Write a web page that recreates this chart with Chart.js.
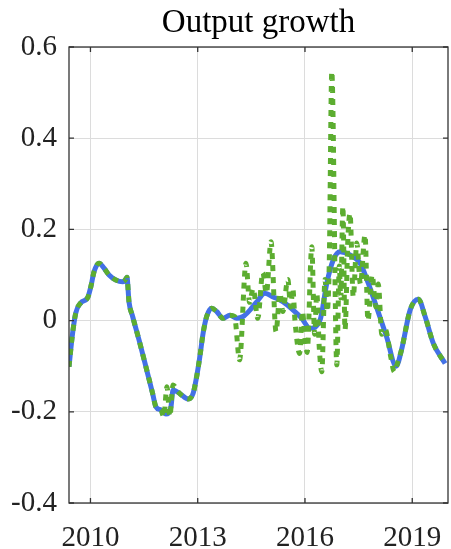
<!DOCTYPE html>
<html>
<head>
<meta charset="utf-8">
<script src="https://cdn.jsdelivr.net/npm/chart.js@4"></script>
<style>
  body { margin: 0; background: #fff; }
  #wrap { width: 451px; height: 549px; }
</style>
</head>
<body>
<div id="wrap"><canvas id="myChart" width="451" height="549"></canvas></div>
<script>
// smooth series (blue, solid)
const blueYears = [2009.40, 2009.50, 2009.59, 2009.73, 2009.92, 2010.01, 2010.10, 2010.24, 2010.38, 2010.52,
  2010.71, 2010.90, 2010.98, 2011.02, 2011.08, 2011.18, 2011.36, 2011.55, 2011.74, 2011.83, 2011.97,
  2012.11, 2012.25, 2012.31, 2012.50, 2012.73, 2012.87, 2012.97, 2013.06, 2013.15, 2013.25, 2013.39,
  2013.53, 2013.71, 2013.90, 2014.09, 2014.27, 2014.46, 2014.65, 2014.88, 2015.11, 2015.39, 2015.67,
  2015.91, 2016.14, 2016.42, 2016.61, 2016.79, 2016.98, 2017.26, 2017.54, 2017.77, 2018.00, 2018.28,
  2018.55, 2018.70, 2018.94, 2019.17, 2019.36, 2019.59, 2019.92];
const blueValues = [-0.101, -0.028, 0.017, 0.039, 0.050, 0.074, 0.107, 0.126, 0.115, 0.100,
  0.089, 0.085, 0.090, 0.095, 0.040, 0.009, -0.043, -0.101, -0.160, -0.189, -0.196,
  -0.205, -0.190, -0.152, -0.160, -0.172, -0.160, -0.123, -0.079, -0.028, 0.009, 0.027,
  0.020, 0.005, 0.012, 0.005, 0.009, 0.023, 0.041, 0.060, 0.052, 0.041, 0.023,
  0.005, -0.017, 0.001, 0.082, 0.133, 0.151, 0.144, 0.126, 0.082, 0.030, -0.035,
  -0.100, -0.064, 0.023, 0.047, 0.009, -0.050, -0.094];

// noisy series (green, dotted)
const greenYears = [2009.40, 2009.50, 2009.59, 2009.73, 2009.92, 2010.01, 2010.10, 2010.24, 2010.38, 2010.52,
  2010.71, 2010.90, 2010.98, 2011.02, 2011.08, 2011.18, 2011.36, 2011.55, 2011.74, 2011.83, 2011.97,
  2012.05, 2012.14, 2012.22, 2012.31, 2012.45, 2012.73, 2012.87, 2012.97, 2013.06, 2013.15, 2013.25,
  2013.39, 2013.53, 2013.71, 2013.90, 2014.03, 2014.17, 2014.35, 2014.45, 2014.55, 2014.68, 2014.82,
  2014.92, 2015.05, 2015.19, 2015.30, 2015.38, 2015.52, 2015.60, 2015.66, 2015.72, 2015.85, 2015.93,
  2016.00, 2016.06, 2016.19, 2016.27, 2016.33, 2016.40, 2016.47, 2016.56, 2016.62, 2016.68, 2016.75,
  2016.89, 2016.96, 2017.00, 2017.06, 2017.12, 2017.20, 2017.26, 2017.35, 2017.45, 2017.55, 2017.68,
  2017.76, 2017.88, 2017.98, 2018.05, 2018.15, 2018.25, 2018.40, 2018.50, 2018.58, 2018.70, 2018.94,
  2019.17, 2019.36, 2019.59, 2019.92];
const greenValues = [-0.101, -0.028, 0.017, 0.039, 0.050, 0.074, 0.107, 0.126, 0.115, 0.100,
  0.089, 0.085, 0.090, 0.095, 0.040, 0.009, -0.043, -0.101, -0.160, -0.189, -0.196,
  -0.211, -0.145, -0.210, -0.141, -0.156, -0.172, -0.160, -0.123, -0.079, -0.028, 0.009,
  0.027, 0.020, 0.005, 0.012, 0.009, -0.086, 0.126, 0.040, 0.070, 0.005, 0.105,
  0.060, 0.173, -0.024, 0.060, 0.020, 0.090, 0.030, 0.070, 0.000, -0.072, 0.020,
  -0.040, -0.070, 0.162, -0.030, 0.060, -0.060, -0.112, 0.090, 0.020, 0.130, 0.546,
  -0.097, 0.120, 0.050, 0.250, -0.020, 0.180, 0.235, 0.052, 0.170, 0.080, 0.188,
  0.000, 0.100, 0.030, 0.080, -0.030, -0.020, -0.080, -0.112, -0.095, -0.064, 0.023,
  0.047, 0.009, -0.050, -0.094];

const yearTicks = [2010, 2013, 2016, 2019];

const serif = '"Liberation Serif", "DejaVu Serif", serif';

const boxPlugin = {
  id: 'box',
  afterDatasetsDraw(chart) {
    const { ctx, chartArea: a, scales } = chart;
    ctx.save();
    ctx.strokeStyle = '#333';
    ctx.lineWidth = 1.3;
    ctx.strokeRect(a.left, a.top, a.right - a.left, a.bottom - a.top);
    ctx.beginPath();
    yearTicks.forEach(t => {
      const x = scales.x.getPixelForValue(t);
      ctx.moveTo(x, a.bottom); ctx.lineTo(x, a.bottom - 5);
      ctx.moveTo(x, a.top); ctx.lineTo(x, a.top + 5);
    });
    scales.y.ticks.forEach(t => {
      const y = scales.y.getPixelForValue(t.value);
      ctx.moveTo(a.left, y); ctx.lineTo(a.left + 5, y);
      ctx.moveTo(a.right, y); ctx.lineTo(a.right - 5, y);
    });
    ctx.stroke();
    ctx.restore();
  }
};

new Chart(document.getElementById('myChart'), {
  type: 'line',
  data: {
    datasets: [
      {
        label: 'noisy',
        data: greenYears.map((x, i) => ({ x, y: greenValues[i] })),
        borderColor: '#5cad30',
        borderWidth: 5,
        borderDash: [6, 6],
        borderCapStyle: 'butt',
        pointRadius: 0,
        cubicInterpolationMode: 'monotone',
        fill: false
      },
      {
        label: 'smooth',
        data: blueYears.map((x, i) => ({ x, y: blueValues[i] })),
        borderColor: '#4371e6',
        borderWidth: 5,
        pointRadius: 0,
        cubicInterpolationMode: 'monotone',
        fill: false
      }
    ]
  },
  options: {
    responsive: false,
    animation: false,
    layout: { padding: { right: 3 } },
    plugins: {
      legend: { display: false },
      tooltip: { enabled: false },
      title: {
        display: true,
        text: 'Output growth',
        fullSize: false,
        color: '#000',
        font: { family: serif, size: 33, weight: 'normal' },
        padding: { top: 4, bottom: 3.4 }
      }
    },
    scales: {
      x: {
        type: 'linear',
        min: 2009.4,
        max: 2020.0,
        afterBuildTicks: scale => { scale.ticks = yearTicks.map(v => ({ value: v })); },
        afterFit: scale => {
          scale.height = 46;
          scale.paddingLeft = 0;
          scale.paddingRight = 0;
        },
        grid: { color: '#dcdcdc', lineWidth: 1, drawTicks: false },
        border: { display: false },
        ticks: {
          color: '#222',
          padding: 18,
          maxRotation: 0,
          font: { family: serif, size: 29 },
          callback: v => String(v)
        }
      },
      y: {
        min: -0.4,
        max: 0.6,
        afterFit: scale => {
          scale.width = 69;
          scale.paddingTop = 0;
          scale.paddingBottom = 0;
        },
        grid: { color: '#dcdcdc', lineWidth: 1, drawTicks: false },
        border: { display: false },
        ticks: {
          stepSize: 0.2,
          color: '#222',
          padding: 12,
          font: { family: serif, size: 29 },
          callback: v => String(Math.round(v * 10) / 10)
        }
      }
    }
  },
  plugins: [boxPlugin]
});
</script>
</body>
</html>
